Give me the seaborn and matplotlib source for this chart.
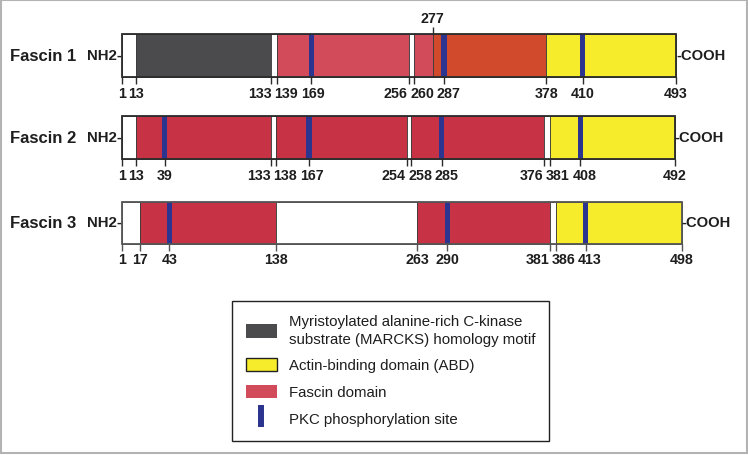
"""Fascin 1/2/3 domain architecture diagram."""

import matplotlib
matplotlib.use("Agg")
import matplotlib.pyplot as plt
from matplotlib.legend_handler import HandlerPatch
from matplotlib.lines import Line2D
from matplotlib.patches import Patch, Rectangle
from matplotlib.transforms import blended_transform_factory
import seaborn as sns

sns.set_style("white")
plt.rcParams["font.family"] = ["Liberation Sans", "DejaVu Sans"]

# ─── Data (residue numbers) ──────────────────────────────────────────────────

F1_STARTS = [1, 13, 133, 139, 256, 260, 277, 378]
F1_ENDS = [13, 133, 139, 256, 260, 277, 378, 493]
F1_KINDS = ["gap", "marcks", "gap", "fascin", "gap", "fascin", "fascin_b", "abd"]
F1_PKC = [169, 287, 410]
F1_TICKS = [1, 13, 133, 139, 169, 256, 260, 287, 378, 410, 493]
F1_TOP_TICKS = [277]

F2_STARTS = [1, 13, 133, 138, 254, 258, 376, 381]
F2_ENDS = [13, 133, 138, 254, 258, 376, 381, 492]
F2_KINDS = ["gap", "fascin", "gap", "fascin", "gap", "fascin", "gap", "abd"]
F2_PKC = [39, 167, 285, 408]
F2_TICKS = [1, 13, 39, 133, 138, 167, 254, 258, 285, 376, 381, 408, 492]

F3_STARTS = [1, 17, 138, 263, 381, 386]
F3_ENDS = [17, 138, 263, 381, 386, 498]
F3_KINDS = ["gap", "fascin", "gap", "fascin", "gap", "abd"]
F3_PKC = [43, 290, 413]
F3_TICKS = [1, 17, 43, 138, 263, 290, 381, 386, 413, 498]

NAMES = ["Fascin 1", "Fascin 2", "Fascin 3"]

LEGEND_LABELS = [
    "Myristoylated alanine-rich C-kinase\nsubstrate (MARCKS) homology motif",
    "Actin-binding domain (ABD)",
    "Fascin domain",
    "PKC phosphorylation site",
]

# ─── Style ───────────────────────────────────────────────────────────────────

DARK = "#4b4a4c"
PINK = "#d14b5b"
ORANGE = "#d14a2b"
CRIMSON = "#c83245"
YELLOW = "#f6ec2b"
BLUE = "#2b3590"
TEXT = "#1e1e1e"

ROW_COLORS = [
    {"gap": "white", "marcks": DARK, "fascin": PINK, "fascin_b": ORANGE, "abd": YELLOW},
    {"gap": "white", "fascin": CRIMSON, "abd": YELLOW},
    {"gap": "white", "fascin": CRIMSON, "abd": YELLOW},
]
ROW_Y = [56.5, 138.5, 223.5]
ROW_H = [43, 43, 42]
OUTLINE = ["#2b2b2b", "#2b2b2b", "#555555"]


def spread(centers, widths, gap=2.5):
    """Empuja etiquetas vecinas (en px) hasta que no se solapen."""
    c = list(centers)
    for _ in range(200):
        moved = False
        for j in range(len(c) - 1):
            need = (widths[j] + widths[j + 1]) / 2 + gap
            d = c[j + 1] - c[j]
            if d < need - 0.01:
                push = (need - d) / 2
                c[j] -= push
                c[j + 1] += push
                moved = True
        if not moved:
            break
    return c


fig = plt.figure(figsize=(7.48, 4.56), dpi=100)
ax = fig.add_axes([0, 0, 1, 1])
ax.set_xlim(-107.35, 556.96)
ax.set_ylim(456, 0)
ax.axis("off")
name_trans = blended_transform_factory(ax.transAxes, ax.transData)
renderer = fig.canvas.get_renderer()

rows = [
    (F1_STARTS, F1_ENDS, F1_KINDS, F1_PKC, F1_TICKS),
    (F2_STARTS, F2_ENDS, F2_KINDS, F2_PKC, F2_TICKS),
    (F3_STARTS, F3_ENDS, F3_KINDS, F3_PKC, F3_TICKS),
]

for i, (starts, ends, kinds, pkc, ticks) in enumerate(rows):
    yc, h, oc = ROW_Y[i], ROW_H[i], OUTLINE[i]
    top, bottom = yc - h / 2, yc + h / 2
    widths = [e - s for s, e in zip(starts, ends)]
    cols = [ROW_COLORS[i][k] for k in kinds]
    ax.barh(yc, widths, left=starts, height=h, color=cols, edgecolor="#3a3a3a", linewidth=0.6)
    ax.barh(yc, 4.6, left=[p - 2.3 for p in pkc], height=h, color=BLUE, linewidth=0)
    ax.barh(yc, ends[-1] - starts[0], left=starts[0], height=h, fill=False,
            edgecolor=oc, linewidth=1.3)
    ax.vlines(ticks, bottom, bottom + 7, color=oc, linewidth=1)

    anns = [ax.annotate(str(t), (t, bottom + 9), xytext=(0, 0), textcoords="offset points",
                        ha="center", va="top", fontsize=10.3, fontweight="bold", color=TEXT)
            for t in ticks]
    tick_px = [ax.transData.transform((t, bottom))[0] for t in ticks]
    label_w = [a.get_window_extent(renderer).width for a in anns]
    new_px = spread(tick_px, label_w)
    for a, x0, x1 in zip(anns, tick_px, new_px):
        a.xyann = ((x1 - x0) * 72 / fig.dpi, 0)

    ax.text(10 / 748, yc, NAMES[i], transform=name_trans, ha="left", va="center",
            fontsize=12, fontweight="bold", color=TEXT)
    ax.text(starts[0], yc, "NH2-", ha="right", va="center", fontsize=10.8,
            fontweight="bold", color=TEXT)
    ax.text(ends[-1], yc, "-COOH", ha="left", va="center", fontsize=10.6,
            fontweight="bold", color=TEXT)

# residuo marcado por encima de Fascin 1
top1 = ROW_Y[0] - ROW_H[0] / 2
ax.vlines(F1_TOP_TICKS, top1 - 7, top1, color=OUTLINE[0], linewidth=1)
for t in F1_TOP_TICKS:
    ax.text(t, top1 - 9, str(t), ha="center", va="bottom", fontsize=10.3,
            fontweight="bold", color=TEXT)

# ─── Legend ──────────────────────────────────────────────────────────────────


def short_patch(legend, orig_handle, xdescent, ydescent, width, height, fontsize):
    ph = 16 / 22 * height
    return Rectangle((-xdescent, -ydescent + (height - ph) / 2), width, ph)


handles = [
    Patch(facecolor=DARK, edgecolor="none"),
    Patch(facecolor=YELLOW, edgecolor="#222", linewidth=1),
    Patch(facecolor=PINK, edgecolor="none"),
    Line2D([], [], color=BLUE, marker="|", linestyle="none", markersize=16, markeredgewidth=4.3),
]
leg = ax.legend(handles, LEGEND_LABELS, loc="upper left",
                bbox_to_anchor=(232 / 748, 1 - 302 / 456), borderaxespad=0,
                fontsize=10.8, frameon=True, fancybox=False, framealpha=1,
                edgecolor="#222", handlelength=2.13, handleheight=1.47,
                handletextpad=0.8, labelspacing=0.6, borderpad=0.9,
                handler_map={Patch: HandlerPatch(patch_func=short_patch)})
leg.get_frame().set_linewidth(1.0)
for txt in leg.get_texts():
    txt.set_color(TEXT)
    txt.set_linespacing(1.35)

# borde gris fino alrededor de toda la figura
fig.add_artist(Rectangle((0.75 / 748, 2 / 456), 746 / 748, 453 / 456, transform=fig.transFigure,
                         fill=False, edgecolor="#b3b3b3", linewidth=1.5))

fig.savefig("out.png", dpi=100)
plt.close(fig)
